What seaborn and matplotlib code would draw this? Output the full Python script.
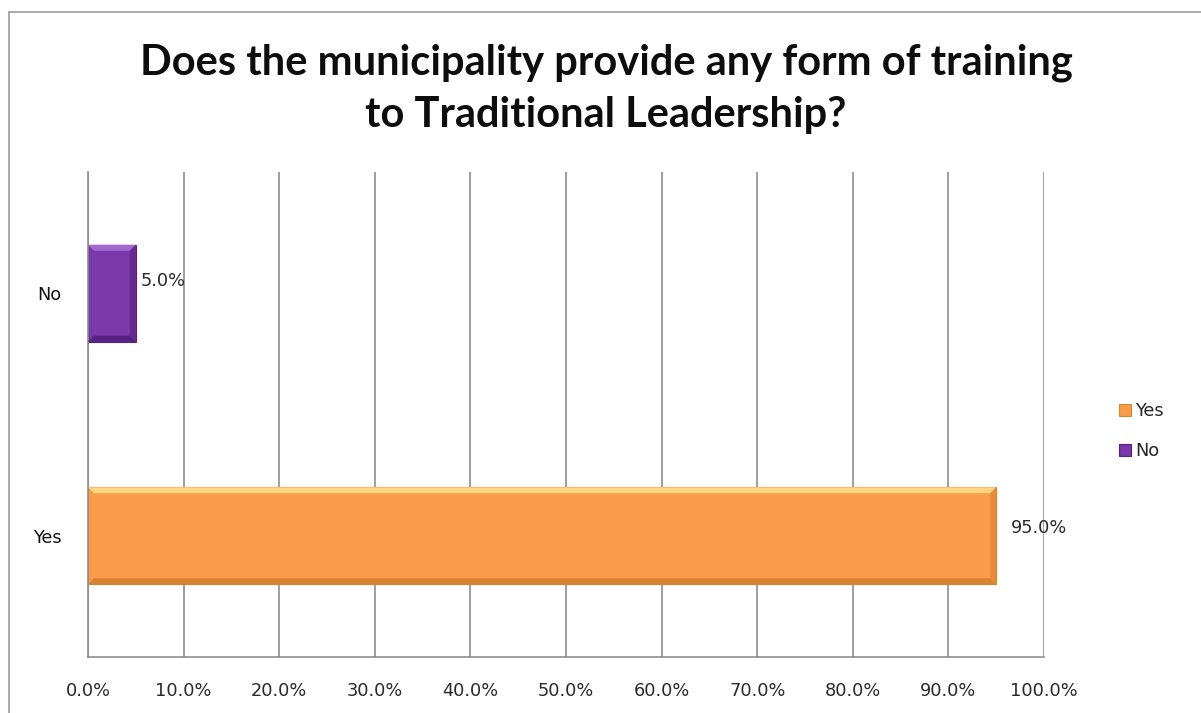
import matplotlib
matplotlib.use("Agg")
import matplotlib.pyplot as plt
import seaborn as sns
import pandas as pd
from matplotlib.patches import Polygon, Rectangle
from matplotlib.lines import Line2D

# Survey answers and their shares (percent)
answers = ["Yes", "No"]
shares = [95.0, 5.0]
axis_order = ["No", "Yes"]          # top-to-bottom order on the y axis
x_ticks = [0, 10, 20, 30, 40, 50, 60, 70, 80, 90, 100]
title = "Does the municipality provide any form of training\nto Traditional Leadership?"

face = {"Yes": "#F99B49", "No": "#7A38A8"}
light = {"Yes": "#FDD581", "No": "#A468D0"}
dark = {"Yes": "#D9822F", "No": "#55207F"}
# label offsets from the bar end, in pixels (dx, dy)
label_offset = {"Yes": (15, 8), "No": (5, 12)}

sns.set_theme(style="white")
plt.rcParams["font.family"] = ["DejaVu Sans"]

df = pd.DataFrame({"answer": answers, "share": shares})

W, H = 1201, 713
fig = plt.figure(figsize=(W / 100, H / 100), dpi=100)
ax = fig.add_axes([88 / W, 1 - 657 / H, (1044 - 88) / W, (657 - 172) / H])

sns.barplot(data=df, x="share", y="answer", hue="answer", order=axis_order,
            hue_order=answers, palette=face, orient="h", width=0.4,
            dodge=False, legend=False, ax=ax, saturation=1)

ax.set_xlim(0, 100)
ax.set_ylim(1.5, -0.5)
ax.set_xticks(x_ticks)
ax.set_xticklabels([f"{t:.1f}%" for t in x_ticks])
ax.set_xlabel("")
ax.set_ylabel("")

grid_col = "#8E8E8E"
for t in x_ticks:
    ax.axvline(t, color=grid_col, lw=1.2, zorder=0)
for s in ["top", "right"]:
    ax.spines[s].set_visible(False)
for s in ["left", "bottom"]:
    ax.spines[s].set_color(grid_col)
    ax.spines[s].set_linewidth(1.2)

txt_size = 12.8
ax.tick_params(axis="x", length=0, pad=18, labelsize=txt_size, labelcolor="#2a2a2a")
ax.tick_params(axis="y", length=0, pad=19, labelsize=txt_size, labelcolor="#111111")

# bevel shading on each bar
fig.canvas.draw()
bbox = ax.get_window_extent()
px_x = 100 / bbox.width          # data units per pixel along x
px_y = 2.0 / bbox.height         # data units per pixel along y
bev = 6
for patch in ax.patches:
    x0, y0 = patch.get_x(), patch.get_y()
    w, h = patch.get_width(), patch.get_height()
    if w <= 0:
        continue
    name = axis_order[int(round(y0 + h / 2))]
    patch.set_edgecolor(dark[name])
    patch.set_linewidth(0.8)
    bx, by = bev * px_x, bev * px_y
    top = Polygon([(x0, y0), (x0 + w, y0), (x0 + w - bx, y0 + by), (x0 + bx, y0 + by)],
                  closed=True, facecolor=light[name], edgecolor="none", zorder=3)
    right = Polygon([(x0 + w, y0), (x0 + w, y0 + h), (x0 + w - bx, y0 + h - by),
                     (x0 + w - bx, y0 + by)],
                    closed=True, facecolor=dark[name], edgecolor="none", alpha=0.55, zorder=3)
    bottom = Polygon([(x0, y0 + h), (x0 + w, y0 + h), (x0 + w - bx, y0 + h - by),
                      (x0 + bx, y0 + h - by)],
                     closed=True, facecolor=dark[name], edgecolor="none", zorder=3)
    ax.add_patch(top)
    ax.add_patch(right)
    ax.add_patch(bottom)
    dx, dy = label_offset[name]
    ax.text(x0 + w + dx * px_x, y0 + h / 2 - dy * px_y, f"{w:.1f}%", ha="left",
            va="center", fontsize=txt_size, color="#2a2a2a", zorder=4)

# legend
handles = [Rectangle((0, 0), 1, 1, facecolor=face[a], edgecolor=dark[a], lw=0.8)
           for a in answers]
fig.legend(handles, answers, loc="center left", bbox_to_anchor=(1119 / W, 1 - 431 / H),
           frameon=False, fontsize=txt_size, handlelength=0.65, handleheight=0.65,
           handletextpad=0.25, labelspacing=1.25, borderaxespad=0, borderpad=0)

fig.suptitle(title, x=606 / W, y=1 - 44 / H, va="top", ha="center",
             fontsize=30, fontweight="bold", color="#0d0d0d", linespacing=1.42,
             family=["Lato", "DejaVu Sans"])

# chart frame along the left and top edges
frame_col = "#9a9a9a"
fig.add_artist(Line2D([9 / W, 9 / W], [0, 1 - 12 / H], transform=fig.transFigure,
                      color=frame_col, lw=1.2))
fig.add_artist(Line2D([9 / W, 1], [1 - 12 / H, 1 - 12 / H], transform=fig.transFigure,
                      color=frame_col, lw=1.2))

fig.savefig("out.png", dpi=100)
